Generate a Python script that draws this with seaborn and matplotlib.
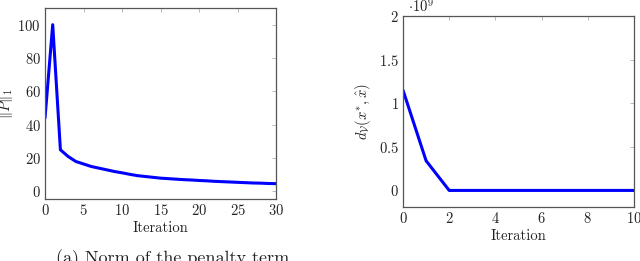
import matplotlib
matplotlib.use("Agg")
import matplotlib.pyplot as plt
import seaborn as sns
import pandas as pd

sns.set_theme(style="white")
plt.rcParams["font.family"] = ["cmr10", "DejaVu Serif"]
plt.rcParams["mathtext.fontset"] = "cm"
plt.rcParams["axes.formatter.use_mathtext"] = True

iter_left = list(range(31))
penalty_norm = [44, 100, 25, 21, 18, 16.5, 15, 14, 13, 12, 11.2, 10.3, 9.5, 9.0, 8.5,
                8.0, 7.7, 7.4, 7.1, 6.9, 6.6, 6.4, 6.1, 5.9, 5.7, 5.5, 5.3, 5.1, 5.0, 4.8, 4.7]
iter_right = list(range(11))
distance = [1.15e9, 0.34e9, 0, 0, 0, 0, 0, 0, 0, 0, 0]

left_xticks = [0, 5, 10, 15, 20, 25, 30]
left_yticks = [0, 20, 40, 60, 80, 100]
right_xticks = [0, 2, 4, 6, 8, 10]
right_yticks = [0, 0.5, 1, 1.5, 2]
right_ytick_labels = ["0", "0.5", "1", "1.5", "2"]

df_l = pd.DataFrame({"Iteration": iter_left, "val": penalty_norm})
df_r = pd.DataFrame({"Iteration": iter_right, "val": [d / 1e9 for d in distance]})

fig = plt.figure(figsize=(6.4, 2.61), dpi=100)
W, H = 640, 261
ax1 = fig.add_axes([45 / W, 1 - 199 / H, (276 - 45) / W, (199 - 8) / H])
ax2 = fig.add_axes([403 / W, 1 - 207 / H, (634 - 403) / W, (207 - 16) / H])

blue = "#0000ff"
sns.lineplot(data=df_l, x="Iteration", y="val", ax=ax1, color=blue, linewidth=2.2)
sns.lineplot(data=df_r, x="Iteration", y="val", ax=ax2, color=blue, linewidth=2.2)

ax1.set_xlim(0, 30)
ax1.set_ylim(-4.5, 110)
ax2.set_xlim(0, 10)
ax2.set_ylim(-0.19, 2)

ax1.set_xticks(left_xticks)
ax1.set_xticklabels([f"${t}$" for t in left_xticks])
ax1.set_yticks(left_yticks)
ax1.set_yticklabels([f"${t}$" for t in left_yticks])
ax2.set_xticks(right_xticks)
ax2.set_xticklabels([f"${t}$" for t in right_xticks])
ax2.set_yticks(right_yticks)
ax2.set_yticklabels([f"${t}$" for t in right_ytick_labels])

for ax in (ax1, ax2):
    ax.tick_params(direction="in", length=3, width=0.6, color="#b0b0b0",
                   top=True, right=True, labelsize=10.5, pad=3, labelcolor="#222222")
    for s in ax.spines.values():
        s.set_color("#555555")
        s.set_linewidth(0.9)
    ax.set_xlabel("Iteration", fontsize=10.5, labelpad=2, color="#222222")

ax1.set_ylabel(r"$\|P\|_1$", fontsize=10.5, labelpad=2, color="#222222")
ax2.set_ylabel(r"$d_{\mathcal{V}}(x^{*},\hat{x})$", fontsize=10.5, labelpad=4, color="#222222")
ax2.text(0.02, 1.005, r"$\cdot 10^{9}$", transform=ax2.transAxes, fontsize=10.5,
         va="bottom", ha="left", color="#222222")

fig.text(173 / W, 1 - 249 / H, "(a) Norm of the penalty term", fontsize=13,
         ha="center", va="top", color="#222222")

fig.savefig("out.png", dpi=100)
